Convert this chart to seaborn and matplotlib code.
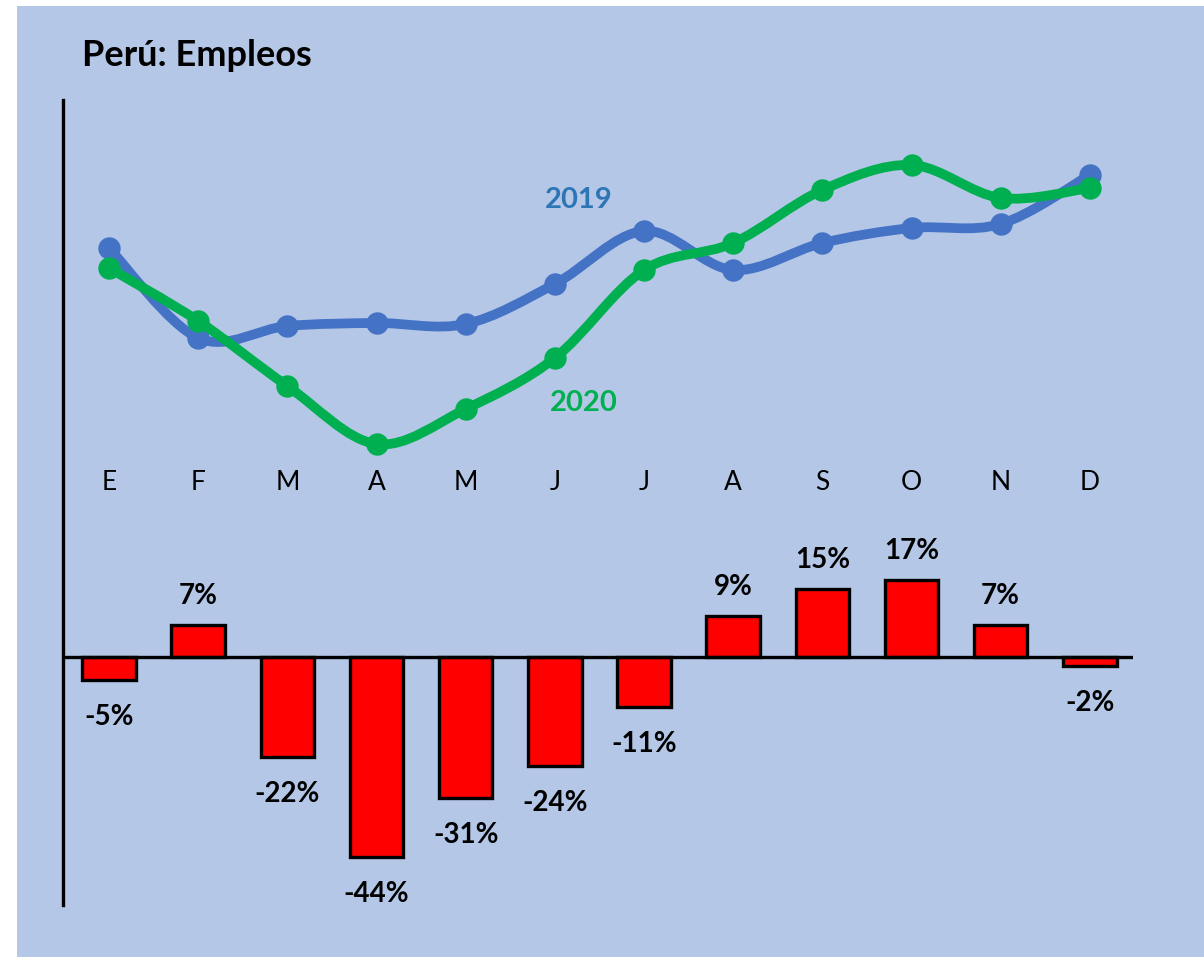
import numpy as np
import pandas as pd
import seaborn as sns
import matplotlib
matplotlib.use('Agg')
import matplotlib.pyplot as plt
from matplotlib.path import Path
from matplotlib.patches import PathPatch, Rectangle

# data (line values are an index, no axis shown)
months = ['E', 'F', 'M', 'A', 'M', 'J', 'J', 'A', 'S', 'O', 'N', 'D']
empleo_2019 = [252, 162, 174, 177, 176, 216, 269, 230, 257, 272, 276, 325]
empleo_2020 = [232, 179, 114, 56, 91, 142, 230, 257, 310, 335, 302, 312]
var_pct = [-5, 7, -22, -44, -31, -24, -11, 9, 15, 17, 7, -2]

BG = '#B4C7E7'
BLUE = '#4472C4'
GREEN = '#00B050'

sns.set_style('white')
plt.rcParams['font.family'] = ['Lato', 'DejaVu Sans']

W, H = 1204, 957
fig = plt.figure(figsize=(W / 100, H / 100), dpi=100)
fig.patch.set_facecolor('white')
bg = Rectangle((17 / W, 0), 1 - 17 / W, (H - 6) / H,
               transform=fig.transFigure, facecolor=BG,
               edgecolor='none', zorder=-10)
fig.add_artist(bg)

XMIN, XMAX = -0.516, 11.484
ax = fig.add_axes([63 / W, (H - 905) / H, (1133 - 63) / W, (905 - 100) / H])
ax.patch.set_alpha(0)

# bars
df = pd.DataFrame({'pos': list(range(12)), 'pct': var_pct})
sns.barplot(data=df, x='pos', y='pct', ax=ax, color='red', saturation=1,
            width=0.6, edgecolor='black', linewidth=2.4, zorder=3)
ax.hlines(0, XMIN, XMAX, color='black', lw=2.4, zorder=4)
ax.set_xlim(XMIN, XMAX)
ax.set_ylim(-54.5, 122.4)
ax.set_xticks([])
ax.set_yticks([])
ax.set_xlabel('')
ax.set_ylabel('')
for s in ['top', 'right', 'bottom']:
    ax.spines[s].set_visible(False)
ax.spines['left'].set_linewidth(2.4)
ax.spines['left'].set_color('black')

for i, v in enumerate(var_pct):
    if v >= 0:
        ax.text(i, v + 6.3, f'{v}%', ha='center', va='center',
                fontsize=20, fontweight='bold', color='black')
    else:
        ax.text(i, v - 8.1, f'{v}%', ha='center', va='center',
                fontsize=20, fontweight='bold', color='black')

# lines on a twin scale
ax2 = ax.twinx()
ax2.patch.set_alpha(0)
ax2.set_ylim(-405, 400)
ax2.set_yticks([])
for s in ax2.spines.values():
    s.set_visible(False)


def smooth_path(xs, ys):
    pts = np.column_stack([xs, ys]).astype(float)
    n = len(pts)
    verts = [pts[0]]
    codes = [Path.MOVETO]
    for i in range(n - 1):
        p0 = pts[i - 1] if i > 0 else pts[i]
        p1 = pts[i]
        p2 = pts[i + 1]
        p3 = pts[i + 2] if i + 2 < n else pts[i + 1]
        c1 = p1 + (p2 - p0) / 6
        c2 = p2 - (p3 - p1) / 6
        verts += [c1, c2, p2]
        codes += [Path.CURVE4] * 3
    return Path(verts, codes)


x = np.arange(12)
for vals, col, z in [(empleo_2019, BLUE, 5), (empleo_2020, GREEN, 6)]:
    ax2.add_patch(PathPatch(smooth_path(x, vals), facecolor='none',
                            edgecolor=col, lw=7, capstyle='round',
                            joinstyle='round', zorder=z))
    sns.scatterplot(x=x, y=vals, ax=ax2, color=col, s=260, edgecolor=col,
                    linewidth=0, zorder=z, legend=False)
ax2.set_xlim(XMIN, XMAX)

for i, m in enumerate(months):
    ax2.text(i, 17, m, ha='center', va='center', fontsize=19, color='black')

ax2.text(5.27, 300, '2019', ha='center', va='center', fontsize=21,
         fontweight='bold', color='#2E75B6')
ax2.text(5.32, 97, '2020', ha='center', va='center', fontsize=21,
         fontweight='bold', color=GREEN)

fig.text(82 / W, (H - 66) / H, 'Perú: Empleos', ha='left', va='baseline',
         fontsize=26, fontweight='bold', color='black')

fig.savefig('out.png', dpi=100, facecolor=fig.get_facecolor())
